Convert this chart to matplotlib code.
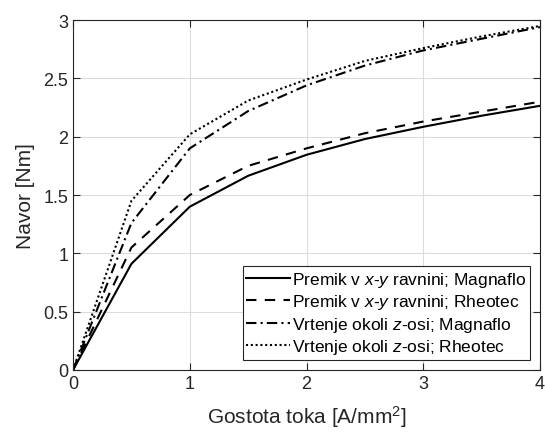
import matplotlib
matplotlib.use("Agg")
import matplotlib.pyplot as plt

x = [0, 0.5, 1, 1.5, 2, 2.5, 3, 3.5, 4]
xy_magnaflo = [0, 0.91, 1.40, 1.665, 1.845, 1.98, 2.085, 2.18, 2.265]
xy_rheotec = [0, 1.05, 1.50, 1.75, 1.90, 2.03, 2.13, 2.215, 2.30]
z_magnaflo = [0, 1.26, 1.90, 2.22, 2.44, 2.61, 2.74, 2.84, 2.94]
z_rheotec = [0, 1.45, 2.02, 2.31, 2.49, 2.65, 2.76, 2.86, 2.95]
labels = ["Premik v $\\it{x}$-$\\it{y}$ ravnini; Magnaflo",
          "Premik v $\\it{x}$-$\\it{y}$ ravnini; Rheotec",
          "Vrtenje okoli $\\it{z}$-osi; Magnaflo",
          "Vrtenje okoli $\\it{z}$-osi; Rheotec"]
xticks = [0, 1, 2, 3, 4]
yticks = [0, 0.5, 1, 1.5, 2, 2.5, 3]

plt.rcParams['font.family'] = ['Liberation Sans', 'DejaVu Sans']
plt.rcParams['mathtext.fontset'] = 'custom'
plt.rcParams['mathtext.it'] = 'Liberation Sans:italic'
plt.rcParams['mathtext.rm'] = 'Liberation Sans'

fig = plt.figure(figsize=(5.45, 4.39), dpi=100)
ax = fig.add_axes([0.134, 0.155, 0.857, 0.797])

lw = 1.5
ax.plot(x, xy_magnaflo, color='black', lw=lw, linestyle='-', label=labels[0])
ax.plot(x, xy_rheotec, color='black', lw=lw, linestyle=(0, (5, 4)), label=labels[1])
ax.plot(x, z_magnaflo, color='black', lw=lw, linestyle=(0, (5, 2, 1, 2)), label=labels[2])
ax.plot(x, z_rheotec, color='black', lw=lw, linestyle=(0, (1, 1.3)), label=labels[3])

ax.set_xlim(0, 4)
ax.set_ylim(0, 3)
ax.set_xticks(xticks)
ax.set_yticks(yticks)
ax.set_yticklabels(['0', '0.5', '1', '1.5', '2', '2.5', '3'])
ax.tick_params(direction='in', top=True, right=True, labelsize=13, length=5, colors='#262626')
ax.grid(True, color='#dcdcdc', lw=0.8)
ax.set_axisbelow(True)
for s in ax.spines.values():
    s.set_color('#262626')
    s.set_linewidth(0.8)

ax.set_xlabel('Gostota toka [A/mm$^2$]', fontsize=15, color='#262626', labelpad=8)
ax.set_ylabel('Navor [Nm]', fontsize=15, color='#262626', labelpad=6)

leg = ax.legend(loc='lower right', fontsize=12.5, handlelength=2.5, handletextpad=0.15,
                fancybox=False, edgecolor='#262626', framealpha=1, borderpad=0.2,
                labelspacing=0.2, borderaxespad=0.6)
leg.get_frame().set_linewidth(0.8)

fig.savefig('out.png', dpi=100)
